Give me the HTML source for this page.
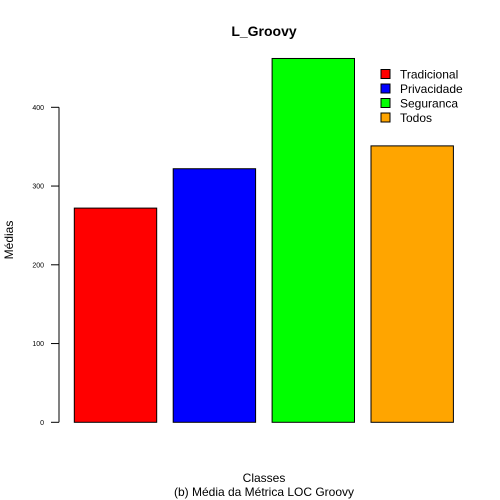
<!DOCTYPE html>
<html><head><meta charset="utf-8"><style>
html,body{margin:0;padding:0;background:#fff;}
svg{display:block;font-family:"Liberation Sans",Arial,sans-serif;}
</style></head><body>
<svg id="chart" width="500" height="500" viewBox="0 0 500 500">
<text x="264" y="36" text-anchor="middle" font-size="14" font-weight="bold">L_Groovy</text>
<text x="13" y="240" text-anchor="middle" font-size="12" transform="rotate(-90 13 240)">Médias</text>
<text x="264" y="482" text-anchor="middle" font-size="12">Classes</text>
<text x="264" y="496" text-anchor="middle" font-size="12">(b) Média da Métrica LOC Groovy</text>
<g id="axis"></g>
<g id="bars"></g>
<g id="legend"></g>
</svg>
<script>
const categories = ["Tradicional","Privacidade","Seguranca","Todos"];
const values = [272, 322, 462, 351];
const colors = ["#ff0000","#0000ff","#00ff00","#ffa500"];
const yTicks = [0,100,200,300,400];

const NS = "http://www.w3.org/2000/svg";
const y0 = 422.3, pxPer = 0.7875;
function yScale(v){ return y0 - v*pxPer; }
function xScale(i){ return 74.3 + i*98.9; }
const barW = 82.4;
function mk(tag, attrs, parent){ const e=document.createElementNS(NS,tag); for(const k in attrs) e.setAttribute(k,attrs[k]); parent.appendChild(e); return e; }

const axis = document.getElementById('axis');
mk('line',{x1:59,x2:59,y1:yScale(yTicks[0]),y2:yScale(yTicks[yTicks.length-1]),stroke:'#000','stroke-width':1},axis);
yTicks.forEach(t=>{
  const y=yScale(t);
  const l=mk('line',{x1:51,x2:59,y1:y,y2:y,stroke:'#000','stroke-width':1},axis);
  
  
  const tx=mk('text',{x:44,y:y+2.5,'text-anchor':'end','font-size':7},axis);
  tx.textContent=t;
  
  
});

const bars = document.getElementById('bars');
values.forEach((v,i)=>{
  const r=mk('rect',{x:xScale(i),y:yScale(v),width:barW,height:y0-yScale(v),fill:colors[i],stroke:'#000','stroke-width':1},bars);
  
  
});

const legend = document.getElementById('legend');
categories.forEach((c,i)=>{
  const cy=74+i*14.5;
  const g=mk('g',{},legend);
  
  
  mk('rect',{x:381,y:cy-4.5,width:9,height:9,fill:colors[i],stroke:'#000','stroke-width':1},g);
  const t=mk('text',{x:400,y:cy+4.5,'font-size':12},g);
  t.textContent=c;
});
</script>
</body></html>
